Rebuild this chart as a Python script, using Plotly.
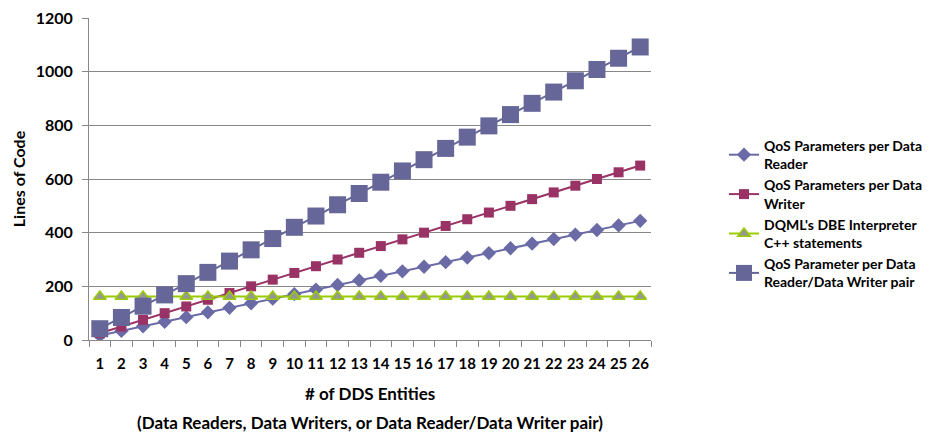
import plotly.graph_objects as go

entities = [str(i) for i in range(1, 27)]
reader = [17, 34, 51, 68, 85, 103, 120, 137, 154, 171, 188, 205, 222, 239, 256, 273, 290, 307, 324, 342, 359, 376, 393, 410, 427, 444]
writer = [25, 50, 75, 100, 125, 150, 175, 200, 225, 250, 275, 300, 325, 350, 375, 400, 425, 450, 475, 500, 525, 550, 575, 600, 625, 650]
dbe = [162] * 26
pair = [42, 84, 126, 168, 210, 252, 294, 336, 378, 420, 462, 504, 546, 588, 630, 672, 714, 756, 798, 840, 882, 924, 966, 1008, 1050, 1092]

names = [
    "QoS Parameters per Data<br>Reader",
    "QoS Parameters per Data<br>Writer",
    "DQML's DBE Interpreter<br>C++ statements",
    "QoS Parameter per Data<br>Reader/Data Writer pair",
]

FONT = "Lato"
# page has an 8px body margin; plot area in page pixels: x 89..651, y 18..340
W, H = 925, 426
L, R, T, B = 81, 0, 10, 94
PW = W - L - R          # paper width
PH = H - T - B
XDOM = [0, (651 - 89) / PW]


def px2paper(px, py):
    return (px - 89) / PW, (340 - py) / PH


fig = go.Figure()
fig.add_trace(go.Scatter(x=entities, y=reader, name=names[0], mode="lines+markers",
                         line=dict(color="#6a6aa6", width=2),
                         marker=dict(symbol="diamond", size=11, color="#6a6aa6")))
fig.add_trace(go.Scatter(x=entities, y=writer, name=names[1], mode="lines+markers",
                         line=dict(color="#993366", width=2),
                         marker=dict(symbol="square", size=10, color="#993366")))
fig.add_trace(go.Scatter(x=entities, y=dbe, name=names[2], mode="lines+markers",
                         line=dict(color="#99cc00", width=2),
                         marker=dict(symbol="triangle-up", size=11, color="#969696",
                                     line=dict(color="#99cc00", width=1.5))))
fig.add_trace(go.Scatter(x=entities, y=pair, name=names[3], mode="lines+markers",
                         line=dict(color="#666699", width=2),
                         marker=dict(symbol="square", size=17, color="#666699")))

lx, ly = px2paper(724, 214)
t1x, t1y = px2paper(370, 393)
t2x, t2y = px2paper(370, 422)

fig.update_layout(
    width=W, height=H,
    margin=dict(l=L, r=R, t=T, b=B),
    paper_bgcolor="white", plot_bgcolor="white",
    font=dict(family=FONT, size=14, color="black"),
    showlegend=True,
    legend=dict(x=lx, y=ly, xanchor="left", yanchor="middle",
                font=dict(family=FONT, size=14, color="black", weight="bold"),
                tracegroupgap=0, itemwidth=30, bgcolor="rgba(0,0,0,0)"),
    xaxis=dict(type="category", domain=XDOM, range=[-0.5, 25.5], tickson="boundaries",
               ticks="outside", ticklen=6,
               tickcolor="#888888", showgrid=False, showline=True, linecolor="#888888",
               linewidth=1, tickangle=0, automargin=False,
               tickfont=dict(family=FONT, size=15, color="black", weight="bold"),
               ticklabelstandoff=10),
    yaxis=dict(range=[0, 1200], dtick=200, ticks="outside", ticklen=6, tickcolor="#888888",
               showgrid=True, gridcolor="#888888", gridwidth=1, showline=True,
               linecolor="#888888", zeroline=False, automargin=False,
               ticklabeloverflow="allow",
               tickfont=dict(family=FONT, size=16, color="black", weight="bold"),
               ticklabelstandoff=6,
               title=dict(text="Lines of Code", font=dict(family=FONT, size=16, weight="bold"),
                          standoff=6)),
    annotations=[
        dict(text="<b># of DDS Entities</b>", x=t1x, y=t1y, xref="paper", yref="paper",
             xanchor="center", yanchor="middle",
             showarrow=False, font=dict(family=FONT, size=17)),
        dict(text="<b>(Data Readers, Data Writers, or Data Reader/Data Writer pair)</b>",
             x=t2x, y=t2y, xref="paper", yref="paper", xanchor="center", yanchor="middle",
             showarrow=False, font=dict(family=FONT, size=17)),
    ],
)

fig.write_html("out.html")
